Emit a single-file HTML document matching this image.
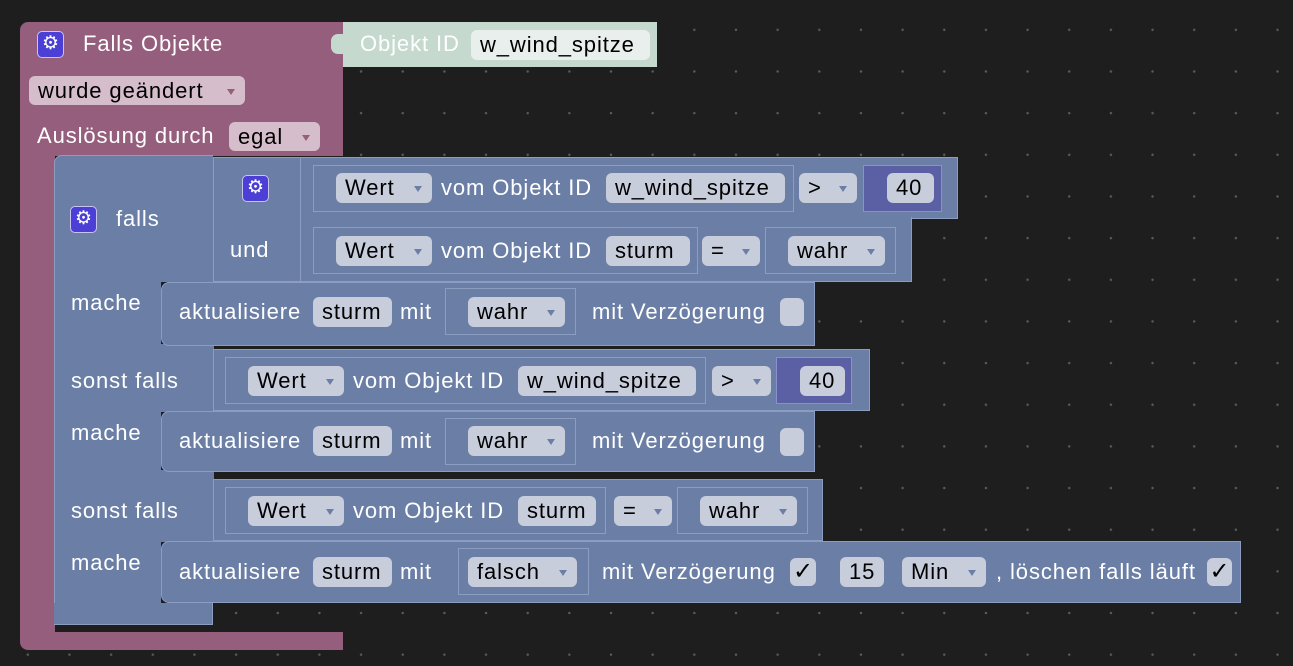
<!DOCTYPE html>
<html><head><meta charset="utf-8"><style>
body{margin:0;width:1293px;height:666px;overflow:hidden;background-color:#1e1e1e;
background-image:radial-gradient(circle,#5a5a5a 1.1px,transparent 1.4px);background-size:41.67px 41.67px;background-position:7px 9px;
font-family:"Liberation Sans",Arial,sans-serif;font-size:22px;letter-spacing:0.9px;position:relative}
div{position:absolute;box-sizing:border-box}
.p{background:#955e7c}
.b{background:#6b7fa6}
.bo{background:#6b7fa6;border:1.5px solid #8c9dc2}
.o{border:1.5px solid #8c9dc2}
.t{color:#fff;white-space:nowrap;line-height:30px}
.f{background:#c8cddc;border-radius:6px;color:#000;height:30px;line-height:30px;padding-left:9px;white-space:nowrap}
.fp{background:#d6bdcb}
.a::after{content:"";position:absolute;right:10px;top:13px;border-left:4.5px solid transparent;border-right:4.5px solid transparent;border-top:6px solid #6b7fa6}
.fp.a::after{border-top-color:#955e7c}
.g{width:27px;height:27px;border-radius:5px;background:#4b3fd6;border:1.5px solid #c8c3f0;color:#fff;font-size:19px;line-height:24px;text-align:center;letter-spacing:0}
.n{background:#5b5fa3;border:1.5px solid #8a8fd0}
.cb{background:#c8cddc;border-radius:6px;height:28px;color:#000;text-align:center;line-height:28px;font-size:24px;letter-spacing:0}
</style></head><body>
<div class="p" style="left:20px;top:22px;width:323px;height:134px;border-radius:8px 0 0 0"></div>
<div class="p" style="left:20px;top:150px;width:35px;height:490px"></div>
<div class="p" style="left:20px;top:632px;width:323px;height:18px;border-radius:0 0 0 8px"></div>
<div class="g" style="left:37px;top:31px">⚙</div>
<div class="t" style="left:83px;top:29px">Falls Objekte</div>
<div class="f fp a" style="left:29px;top:76px;width:216px;height:29px">wurde geändert</div>
<div class="t" style="left:37px;top:121px">Auslösung durch</div>
<div class="f fp a" style="left:229px;top:122px;width:91px;height:29px">egal</div>
<div style="left:343px;top:22px;width:314px;height:45px;background:#c5d9cf"></div>
<div style="left:331px;top:34px;width:14px;height:20px;background:#c5d9cf;border-radius:7px 0 0 7px"></div>
<div class="t" style="left:360px;top:29px">Objekt ID</div>
<div class="f" style="left:471px;top:30px;width:179px;background:#e9efec">w_wind_spitze</div>

<div class="b" style="left:54px;top:155px;width:159px;height:127px;border-radius:8px 0 0 0;border-left:1.5px solid #8c9dc2;border-top:1.5px solid #8c9dc2"></div>
<div class="b" style="left:54px;top:280px;width:107px;height:345px;border-left:1.5px solid #8c9dc2"></div>
<div class="b" style="left:54px;top:603px;width:159px;height:22px;border-bottom:1.5px solid #8c9dc2;border-right:1.5px solid #8c9dc2"></div>
<div class="b" style="left:150px;top:344px;width:64px;height:68px"></div>
<div class="b" style="left:150px;top:470px;width:64px;height:72px"></div>
<div class="g" style="left:70px;top:206px">⚙</div>
<div class="t" style="left:71px;top:204px;left:116px">falls</div>
<div class="t" style="left:71px;top:288px">mache</div>
<div class="t" style="left:71px;top:366px">sonst falls</div>
<div class="t" style="left:71px;top:418px">mache</div>
<div class="t" style="left:71px;top:496px">sonst falls</div>
<div class="t" style="left:71px;top:548px">mache</div>

<div class="bo" style="left:213px;top:157px;width:745px;height:62px"></div>
<div class="bo" style="left:213px;top:217px;width:699px;height:65px;border-top:none"></div>
<div class="o" style="left:213px;top:157px;width:88px;height:125px"></div>
<div class="g" style="left:242px;top:175px">⚙</div>
<div class="t" style="left:230px;top:235px">und</div>
<div class="o" style="left:313px;top:165px;width:481px;height:47px"></div>
<div class="f a" style="left:336px;top:173px;width:96px">Wert</div>
<div class="t" style="left:441px;top:173px">vom Objekt ID</div>
<div class="f" style="left:606px;top:173px;width:179px">w_wind_spitze</div>
<div class="f a" style="left:799px;top:173px;width:58px">&gt;</div>
<div class="n" style="left:863px;top:165px;width:79px;height:47px"></div>
<div class="f" style="left:887px;top:173px;width:47px">40</div>
<div class="o" style="left:313px;top:227px;width:385px;height:47px"></div>
<div class="f a" style="left:336px;top:236px;width:96px">Wert</div>
<div class="t" style="left:441px;top:236px">vom Objekt ID</div>
<div class="f" style="left:606px;top:236px;width:84px">sturm</div>
<div class="f a" style="left:702px;top:236px;width:58px">=</div>
<div class="o" style="left:765px;top:227px;width:131px;height:47px"></div>
<div class="f a" style="left:788px;top:236px;width:97px">wahr</div>

<div class="bo" style="left:161px;top:282px;width:654px;height:64px;border-radius:8px 0 0 8px"></div>
<div class="t" style="left:179px;top:297px">aktualisiere</div>
<div class="f" style="left:313px;top:297px;width:79px">sturm</div>
<div class="t" style="left:400px;top:297px">mit</div>
<div class="o" style="left:445px;top:288px;width:131px;height:47px"></div>
<div class="f a" style="left:468px;top:297px;width:97px">wahr</div>
<div class="t" style="left:592px;top:297px">mit Verzögerung</div>
<div class="cb" style="left:780px;top:298px;width:24px"></div>

<div class="bo" style="left:213px;top:349px;width:657px;height:62px"></div>
<div class="o" style="left:225px;top:357px;width:481px;height:47px"></div>
<div class="f a" style="left:248px;top:366px;width:96px">Wert</div>
<div class="t" style="left:353px;top:366px">vom Objekt ID</div>
<div class="f" style="left:518px;top:366px;width:178px">w_wind_spitze</div>
<div class="f a" style="left:712px;top:366px;width:59px">&gt;</div>
<div class="n" style="left:776px;top:357px;width:76px;height:47px"></div>
<div class="f" style="left:800px;top:366px;width:45px">40</div>

<div class="bo" style="left:161px;top:411px;width:654px;height:61px;border-radius:8px 0 0 8px"></div>
<div class="t" style="left:179px;top:426px">aktualisiere</div>
<div class="f" style="left:313px;top:426px;width:79px">sturm</div>
<div class="t" style="left:400px;top:426px">mit</div>
<div class="o" style="left:445px;top:418px;width:131px;height:47px"></div>
<div class="f a" style="left:468px;top:426px;width:97px">wahr</div>
<div class="t" style="left:592px;top:426px">mit Verzögerung</div>
<div class="cb" style="left:780px;top:428px;width:24px"></div>

<div class="bo" style="left:213px;top:479px;width:610px;height:62px"></div>
<div class="o" style="left:225px;top:487px;width:381px;height:47px"></div>
<div class="f a" style="left:248px;top:496px;width:96px">Wert</div>
<div class="t" style="left:353px;top:496px">vom Objekt ID</div>
<div class="f" style="left:518px;top:496px;width:78px">sturm</div>
<div class="f a" style="left:614px;top:496px;width:58px">=</div>
<div class="o" style="left:677px;top:487px;width:131px;height:47px"></div>
<div class="f a" style="left:700px;top:496px;width:97px">wahr</div>

<div class="bo" style="left:161px;top:541px;width:1080px;height:62px;border-radius:8px 0 0 8px"></div>
<div class="t" style="left:179px;top:557px">aktualisiere</div>
<div class="f" style="left:313px;top:557px;width:79px">sturm</div>
<div class="t" style="left:400px;top:557px">mit</div>
<div class="o" style="left:458px;top:548px;width:131px;height:47px"></div>
<div class="f a" style="left:468px;top:557px;width:109px">falsch</div>
<div class="t" style="left:602px;top:557px">mit Verzögerung</div>
<div class="cb" style="left:790px;top:558px;width:26px">✓</div>
<div class="f" style="left:840px;top:557px;width:44px">15</div>
<div class="f a" style="left:902px;top:557px;width:84px">Min</div>
<div class="t" style="left:996px;top:557px">, löschen falls läuft</div>
<div class="cb" style="left:1207px;top:558px;width:25px">✓</div>
</body></html>
